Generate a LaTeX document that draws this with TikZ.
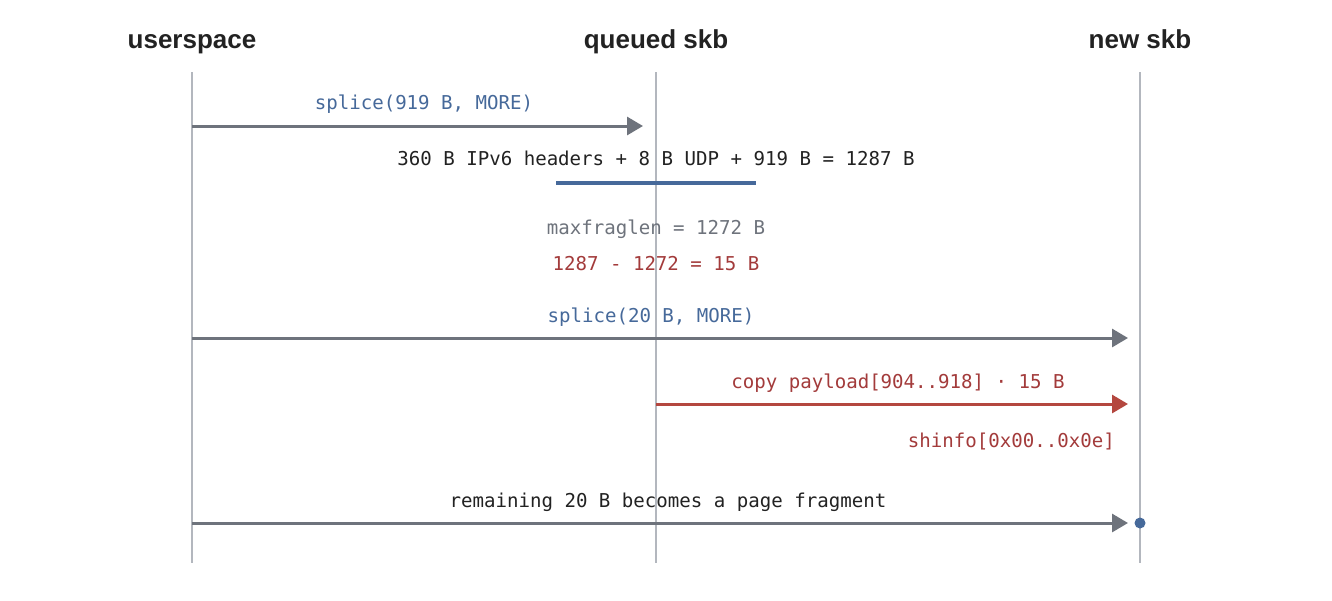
\documentclass[tikz,border=0pt]{standalone}
\usepackage{fontspec}
\setmainfont{Liberation Sans}
\newfontfamily\monof{DejaVu Sans Mono}
\usetikzlibrary{arrows.meta}
\definecolor{lifec}{HTML}{B3B7BE}
\definecolor{arrg}{HTML}{6E737C}
\definecolor{bluet}{HTML}{46699A}
\definecolor{redt}{HTML}{A33B3B}
\definecolor{reda}{HTML}{B4473F}
\definecolor{grayt}{HTML}{6E737C}
\definecolor{blackt}{HTML}{222222}
\begin{document}
\begin{tikzpicture}[x=1pt,y=-1pt,
  head/.style={font=\fontsize{26}{30}\selectfont\bfseries, text=blackt, inner sep=0pt, anchor=base},
  lifeline/.style={draw=lifec, line width=1.5pt},
  msg/.style={draw=arrg, line width=3pt, -{Triangle[length=16pt,width=18pt]}},
  redmsg/.style={draw=reda, line width=3pt, -{Triangle[length=16pt,width=18pt]}},
  mono/.style={font=\monof\fontsize{19.1}{22}\selectfont, inner sep=0pt, anchor=base},
]
\useasboundingbox (0,0) rectangle (1332,600);
\fill[white] (0,0) rectangle (1332,600);
% heads
\node[head] (hu) at (192,48) {userspace};
\node[head] (hq) at (656,48) {queued skb};
\node[head] (hn) at (1140,48) {new skb};
% lifelines
\coordinate (ut) at (192,72); \coordinate (ub) at (192,563);
\coordinate (qt) at (656,72); \coordinate (qb) at (656,563);
\coordinate (nt) at (1140,72); \coordinate (nb) at (1140,563);
\draw[lifeline] (ut) -- (ub);
\draw[lifeline] (qt) -- (qb);
\draw[lifeline] (nt) -- (nb);
% message 1
\coordinate (m1s) at (192,126); \coordinate (m1e) at (643,126);
\draw[msg] (m1s) -- (m1e);
\node[mono, text=bluet] (l1) at (424,109) {splice(919 B, MORE)};
\node[mono, text=blackt] (l2) at (656,165) {360 B IPv6 headers + 8 B UDP + 919 B = 1287 B};
\coordinate (b1) at (556,183); \coordinate (b2) at (756,183);
\draw[draw=bluet, line width=4pt] (b1) -- (b2);
\node[mono, text=grayt] (l3) at (656,234) {maxfraglen = 1272 B};
\node[mono, text=redt] (l4) at (656,270) {1287 - 1272 = 15 B};
% message 2
\coordinate (m2s) at (192,338); \coordinate (m2e) at (1128,338);
\draw[msg] (m2s) -- (m2e);
\node[mono, text=bluet] (l5) at (651,322) {splice(20 B, MORE)};
% message 3
\coordinate (m3s) at (656,404); \coordinate (m3e) at (1128,404);
\draw[redmsg] (m3s) -- (m3e);
\node[mono, text=redt] (l6) at (898,388) {copy payload[904..918] · 15 B};
\node[mono, text=redt, anchor=base east] (l7) at (1115,447) {shinfo[0x00..0x0e]};
% message 4
\coordinate (m4s) at (192,523); \coordinate (m4e) at (1128,523);
\draw[msg] (m4s) -- (m4e);
\node[mono, text=blackt] (l8) at (668,507) {remaining 20 B becomes a page fragment};
\node[circle, fill=bluet, inner sep=0pt, minimum size=11pt] (dot) at (1140,523) {};
\end{tikzpicture}
\end{document}
